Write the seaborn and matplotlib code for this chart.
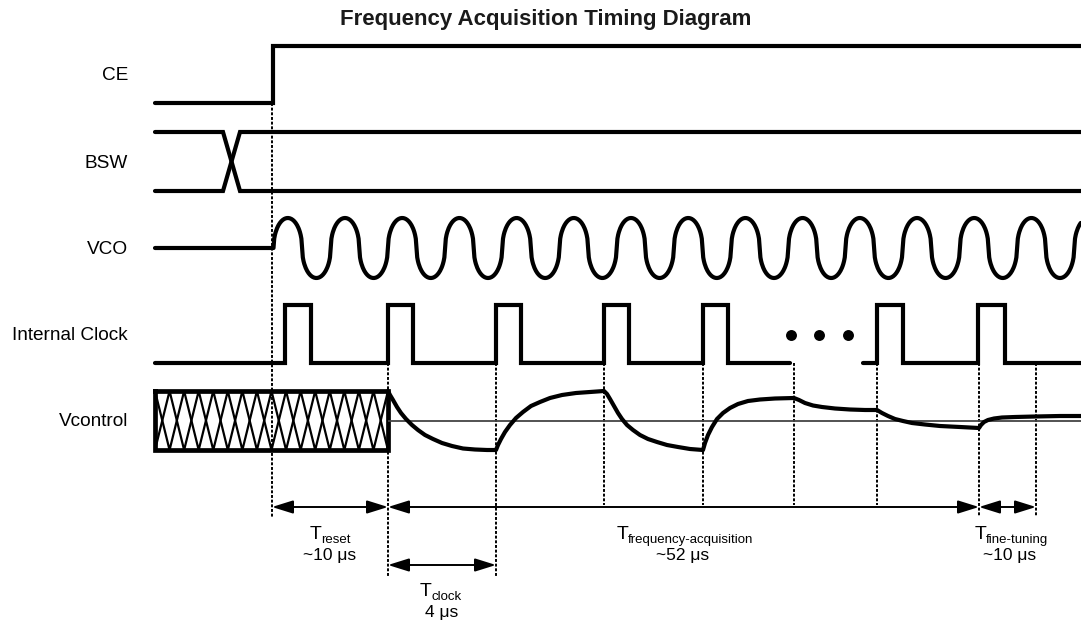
import numpy as np
import pandas as pd
import matplotlib
matplotlib.use("Agg")
import matplotlib.pyplot as plt
import seaborn as sns

# ---------------- data (x = time position along diagram, y = drawing level) ----------------
signal_names = ["CE", "BSW", "VCO", "Internal Clock", "Vcontrol"]

x_start, x_end = 155, 1081
ce_rise = 273
ce_low, ce_high = 103, 46

bsw_top, bsw_bottom = 132, 191
bsw_cross = [223, 240]

vco_mid, vco_amp = 248, 30
vco_start, vco_half_period = 273.5, 28.6

clk_low, clk_high = 363, 305
clk_rise = [285, 388, 496, 604, 703, 877, 978]
clk_fall = [311, 413, 521, 629, 728, 903, 1005]
clk_gap = [790, 863]
dots_x = [791, 819, 848]
dots_level = 335

box_x = [155, 388]
box_y = [391, 450]
hatch_count = 16
vref_level = 421

vctl_x = [388, 390, 393, 397, 401, 406, 412, 418, 425, 433, 442, 452, 463, 475, 487, 496,
          498, 501, 505, 510, 516, 523, 531, 540, 550, 562, 576, 590, 604,
          607, 610, 614, 618, 622, 627, 633, 640, 648, 657, 667, 678, 690, 703,
          705, 708, 712, 717, 723, 730, 738, 748, 760, 775, 794,
          799, 805, 813, 822, 835, 850, 865, 877,
          882, 888, 895, 903, 912, 925, 940, 960, 979,
          981, 984, 988, 994, 1002, 1015, 1035, 1060, 1081]
vctl_y = [391, 395, 400, 407, 413, 419, 425, 430, 435, 439, 443, 446, 448.5, 449.5, 450, 450,
          445, 439, 432, 425, 418, 412, 406, 402, 398, 395, 393, 392, 391,
          394, 399, 406, 413, 419, 425, 430, 435, 439, 442, 445, 447, 449, 450,
          443, 435, 427, 419, 413, 408, 404, 401, 399.5, 398.5, 398,
          400, 403, 405.5, 407, 408.5, 409.5, 410, 410,
          413, 416, 419, 421, 423, 424.5, 426, 427, 428,
          425, 422, 420, 418.5, 417.5, 417, 416.5, 416, 416]

guide_x = [272, 388, 496, 604, 703, 794, 877, 979, 1036]
guide_top = [103, 363, 363, 363, 363, 363, 363, 363, 363]
guide_bottom = [517, 577, 577, 505, 505, 505, 505, 517, 517]

span_names = ["reset", "frequency-acquisition", "fine-tuning", "clock"]
span_values = ["~10 \u03bcs", "~52 \u03bcs", "~10 \u03bcs", "4 \u03bcs"]
span_start = [272, 388, 979, 388]
span_end = [388, 979, 1036, 496]

# ---------------- layout / style ----------------
label_y = [76, 163, 249, 335, 422]
label_right = 128
span_row = [507, 507, 507, 565]
span_T_x = [310, 617, 975, 420]
span_val_x = [330, 683, 1010, 442]
span_T_base = [539, 539, 539, 596]
span_val_base = [560, 560, 560, 617]

sns.set_theme(style="white")
plt.rcParams["font.family"] = ["Liberation Sans", "DejaVu Sans"]
plt.rcParams["text.color"] = "black"

fig = plt.figure(figsize=(10.81, 6.25), dpi=100)
ax = fig.add_axes([0, 0, 1, 1])
ax.set_xlim(0, 1081)
ax.set_ylim(625, 0)
ax.axis("off")

LW = 3.0
wkw = dict(color="black", linewidth=LW, sort=False, estimator=None, ax=ax,
           solid_capstyle="round", solid_joinstyle="miter", legend=False)


def draw(xs, ys, **kw):
    d = dict(wkw)
    d.update(kw)
    sns.lineplot(x=np.asarray(xs, float), y=np.asarray(ys, float), **d)


# guides (dotted)
for gx, gt, gb in zip(guide_x, guide_top, guide_bottom):
    draw([gx, gx], [gt, gb], linewidth=1.4, linestyle=(0, (1.5, 0.9)),
         solid_capstyle="butt")

# CE
draw([x_start, ce_rise, ce_rise, x_end], [ce_low, ce_low, ce_high, ce_high])

# BSW
draw([x_start, bsw_cross[0], bsw_cross[1], x_end], [bsw_top, bsw_top, bsw_bottom, bsw_bottom])
draw([x_start, bsw_cross[0], bsw_cross[1], x_end], [bsw_bottom, bsw_bottom, bsw_top, bsw_top])

# VCO
vx = [x_start, vco_start]
vy = [vco_mid, vco_mid]
k = 0
while vco_start + k * vco_half_period < x_end:
    x0 = vco_start + k * vco_half_period
    u = np.linspace(-1, 1, 41)
    xs = x0 + (u + 1) / 2 * vco_half_period
    sgn = -1 if k % 2 == 0 else 1
    ys = vco_mid + sgn * vco_amp * np.sqrt(np.clip(1 - u ** 2, 0, 1))
    keep = xs <= x_end
    vx.extend(xs[keep])
    vy.extend(ys[keep])
    k += 1
draw(vx, vy, solid_joinstyle="round")


# Internal clock
def clock_path(x0, x1):
    xs, ys = [x0], [clk_low]
    for r, f in zip(clk_rise, clk_fall):
        if x0 <= r and f <= x1:
            xs += [r, r, f, f]
            ys += [clk_low, clk_high, clk_high, clk_low]
    xs.append(x1)
    ys.append(clk_low)
    return xs, ys


cx, cy = clock_path(x_start, clk_gap[0])
draw(cx, cy)
cx, cy = clock_path(clk_gap[1], x_end)
draw(cx, cy)
sns.scatterplot(x=dots_x, y=[dots_level] * len(dots_x), s=62, color="black",
                linewidth=0, ax=ax, legend=False)

# Vcontrol: hatched unknown region
hx = np.linspace(box_x[0], box_x[1], hatch_count + 1)
ya = [box_y[0] if i % 2 == 0 else box_y[1] for i in range(len(hx))]
yb = [box_y[1] if i % 2 == 0 else box_y[0] for i in range(len(hx))]
draw(hx, ya, linewidth=1.6)
draw(hx, yb, linewidth=1.6)
draw([box_x[0], box_x[1], box_x[1], box_x[0], box_x[0]],
     [box_y[0], box_y[0], box_y[1], box_y[1], box_y[0]], linewidth=3.4,
     solid_capstyle="projecting")

# reference level
draw([box_x[1], x_end], [vref_level, vref_level], color="#444444", linewidth=1.3,
     solid_capstyle="butt")

# Vcontrol curve
draw(vctl_x, vctl_y, solid_joinstyle="round")

# span arrows + labels
for i in range(len(span_names)):
    ax.annotate("", xy=(span_end[i], span_row[i]), xytext=(span_start[i], span_row[i]),
                arrowprops=dict(arrowstyle="<|-|>,head_length=0.8,head_width=0.25",
                                mutation_scale=16, color="black", lw=1.4,
                                shrinkA=0, shrinkB=0))
    ax.text(span_T_x[i], span_T_base[i], "T", fontsize=14, ha="left", va="baseline")
    ax.text(span_T_x[i] + 11, span_T_base[i] + 4, span_names[i], fontsize=9.5,
            ha="left", va="baseline")
    ax.text(span_val_x[i], span_val_base[i], span_values[i], fontsize=12.5,
            ha="center", va="baseline")

# signal names
for name, y in zip(signal_names, label_y):
    ax.text(label_right, y, name, fontsize=13.7, ha="right", va="center")

ax.text(546, 19, "Frequency Acquisition Timing Diagram", fontsize=16,
        fontweight="bold", ha="center", va="center", color="#1a1a1a")

fig.savefig("out.png", dpi=100)
